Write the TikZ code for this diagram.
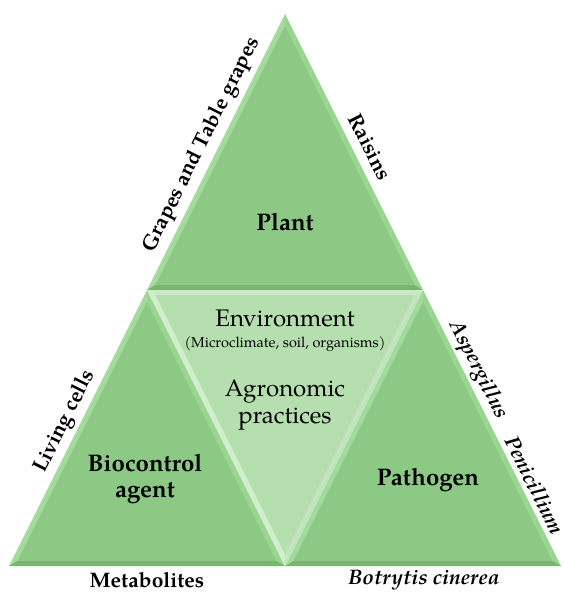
\documentclass[tikz,border=0pt]{standalone}
\usepackage{fontspec}
\setmainfont{TeX Gyre Pagella}
\usetikzlibrary{calc}
\definecolor{gmain}{HTML}{8CC985}
\definecolor{glite}{HTML}{A3DC9A}
\definecolor{glite2}{HTML}{9BD592}
\definecolor{gdark}{HTML}{79B571}
\definecolor{mmain}{HTML}{B6DFB0}
\definecolor{mtop}{HTML}{CAE9C5}
\definecolor{mleft}{HTML}{D3EECE}
\definecolor{mright}{HTML}{C3E5BD}
\newcommand\bevtri[8]{%
  \coordinate (ia) at ($(#4)!0.941!(#1)$);
  \coordinate (ib) at ($(#4)!0.941!(#2)$);
  \coordinate (ic) at ($(#4)!0.941!(#3)$);
  \fill[#6] (#1) -- (#2) -- (ib) -- (ia) -- cycle;
  \fill[#7] (#1) -- (#3) -- (ic) -- (ia) -- cycle;
  \fill[#8] (#2) -- (#3) -- (ic) -- (ib) -- cycle;
  \fill[#5] (ia) -- (ib) -- (ic) -- cycle;
}
\begin{document}
\begin{tikzpicture}[x=1pt,y=-1pt,
  mainlbl/.style={font=\fontsize{24}{26}\selectfont\bfseries, align=center, inner sep=0pt},
  midlbl/.style={font=\fontsize{24}{27}\selectfont, align=center, inner sep=0pt},
  sidelbl/.style={font=\fontsize{21}{23}\selectfont\bfseries, inner sep=0pt},
  sideit/.style={font=\fontsize{21}{23}\selectfont\bfseries\itshape, inner sep=0pt}]
\useasboundingbox (0,0) rectangle (564,592);
\coordinate (T) at (285,14);
\coordinate (L) at (9,566);
\coordinate (R) at (561,566);
\coordinate (ML) at (147,290);
\coordinate (MR) at (423,290);
\coordinate (MB) at (285,566);
\coordinate (IT) at (285,204.7);
\coordinate (IL) at (147,480.7);
\coordinate (IR) at (423,480.7);
\coordinate (IM) at (285,375.3);
% triangles
\bevtri{T}{ML}{MR}{IT}{gmain}{glite}{glite2}{gdark}
\bevtri{ML}{L}{MB}{IL}{gmain}{glite}{glite2}{gdark}
\bevtri{MR}{MB}{R}{IR}{gmain}{glite}{glite2}{gdark}
\bevtri{MB}{ML}{MR}{IM}{mmain}{mleft}{mright}{mtop}
% labels inside
\node[mainlbl] (plant) at (285,222) {Plant};
\node[midlbl] (env) at (285,318) {Environment};
\node[font=\fontsize{14.5}{16}\selectfont, inner sep=0pt] (micro) at (285,344) {(Microclimate, soil, organisms)};
\node[midlbl] (agro) at (285,405) {Agronomic\\practices};
\node[mainlbl] (bio) at (145,479) {Biocontrol\\agent};
\node[mainlbl] (path) at (428,480) {Pathogen};
% side labels
\node[sidelbl, rotate=63.43] (grapes) at (202,145) {Grapes and Table grapes};
\node[sidelbl, rotate=-63.43] (raisins) at (370,147) {Raisins};
\node[sidelbl, rotate=63.43] (living) at (65,422) {Living cells};
\node[sideit, rotate=-63.43] (asp) at (478,370) {Aspergillus};
\node[sideit, rotate=-63.43] (pen) at (535,485) {Penicillium};
\node[sidelbl] (meta) at (147,580) {Metabolites};
\node[sideit] (botry) at (424,580) {Botrytis cinerea};
\end{tikzpicture}
\end{document}
